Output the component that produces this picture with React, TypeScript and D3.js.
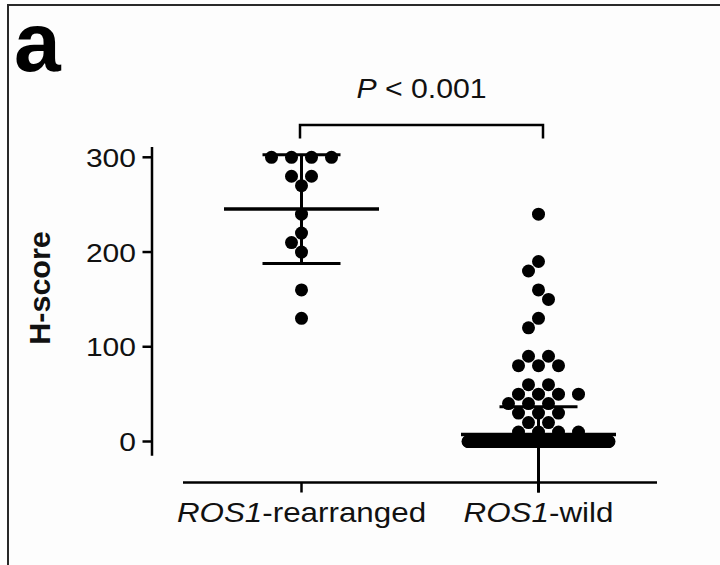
import { useEffect, useRef } from "react";
import * as d3 from "d3";

// data
const groups = ["rearranged", "wild"];
const geneName = "ROS1";
const rearrangedScores = [300, 300, 300, 300, 280, 280, 270, 240, 220, 210, 200, 160, 130];
const wildScores = [
  240, 190, 180, 160, 150, 130, 120, 90, 90, 80, 80, 80, 60, 60, 50, 50, 50, 50,
  40, 40, 40, 30, 30, 30, 20, 20, 10, 10, 10, 10,
];
const wildZeroCount = 265;
const yTicks = [0, 100, 200, 300];
const pValueText = "< 0.001";

const WIDTH = 720;
const HEIGHT = 565;
const DOT_R = 6.5;
const FONT = '"Liberation Sans", Arial, Helvetica, sans-serif';

type Dot = { v: number; cy: number; dx: number };

// equal values go in a centred row, the row is shifted sideways until it clears the dots above
function swarm(values: number[], y: d3.ScaleLinear<number, number>, step: number, minDist: number) {
  const placed: Dot[] = [];
  const levels = Array.from(new Set(values)).sort((a, b) => b - a);
  let flip = 1;
  for (const v of levels) {
    const n = values.filter((d) => d === v).length;
    const cy = y(v);
    const row = d3.range(n).map((i) => (i - (n - 1) / 2) * step * 2);
    const fits = (shift: number) =>
      row.every((t) => placed.every((p) => Math.hypot(p.dx - (t + shift), p.cy - cy) >= minDist));
    let shift = 0;
    for (let j = 0; j < 30; j++) {
      const cands = j === 0 ? [0] : [-j * step * flip, j * step * flip];
      const hit = cands.find(fits);
      if (hit !== undefined) {
        shift = hit;
        if (j > 0) flip = -flip;
        break;
      }
    }
    row.forEach((t) => placed.push({ v, cy, dx: t + shift }));
  }
  return placed;
}

const App = () => {
  const svgRef = useRef<SVGSVGElement>(null);

  useEffect(() => {
    if (!svgRef.current) return;
    const root = d3.select(svgRef.current);
    root.selectAll("*").remove();

    const y = d3.scaleLinear().domain([0, 300]).range([441.5, 157.3]);
    const x = d3.scalePoint<string>().domain(groups).range([183, 657]).padding(0.5);
    const axisX = 152;
    const baseY = 482.5;

    // frame
    root
      .append("rect")
      .attr("width", WIDTH)
      .attr("height", HEIGHT)
      .attr("fill", "#ffffff");
    root
      .append("rect")
      .attr("x", 8)
      .attr("y", 5)
      .attr("width", WIDTH + 20)
      .attr("height", HEIGHT + 20)
      .attr("fill", "#fdfdfd")
      .attr("stroke", "#2a2a2a")
      .attr("stroke-width", 2);

    // panel letter
    root
      .append("text")
      .attr("x", 14)
      .attr("y", 71)
      .attr("font-family", FONT)
      .attr("font-weight", "bold")
      .attr("font-size", 84)
      .attr("fill", "#000")
      .text("a");

    const g = root.append("g");

    // y axis
    g.append("line")
      .attr("x1", axisX)
      .attr("x2", axisX)
      .attr("y1", y(311))
      .attr("y2", y(-15))
      .attr("stroke", "#000")
      .attr("stroke-width", 2.5);

    yTicks.forEach((t) => {
      g.append("line")
        .attr("x1", axisX - 9.5)
        .attr("x2", axisX)
        .attr("y1", y(t))
        .attr("y2", y(t))
        .attr("stroke", "#000")
        .attr("stroke-width", 2.5);
      g.append("text")
        .attr("transform", `translate(${axisX - 16},${y(t) + 9.5}) scale(1.2,1)`)
        .attr("text-anchor", "end")
        .attr("font-family", FONT)
        .attr("font-size", 25)
        .attr("fill", "#111")
        .text(t);
    });

    g.append("text")
      .attr("transform", `translate(49.5,288) rotate(-90) scale(1.05,1)`)
      .attr("text-anchor", "middle")
      .attr("font-family", FONT)
      .attr("font-weight", "bold")
      .attr("font-size", 29)
      .attr("fill", "#111")
      .text("H-score");

    // x axis
    g.append("line")
      .attr("x1", 183)
      .attr("x2", 657)
      .attr("y1", baseY)
      .attr("y2", baseY)
      .attr("stroke", "#000")
      .attr("stroke-width", 2.5);

    groups.forEach((grp) => {
      const cx = x(grp)!;
      g.append("line")
        .attr("x1", cx)
        .attr("x2", cx)
        .attr("y1", baseY)
        .attr("y2", baseY + 10)
        .attr("stroke", "#000")
        .attr("stroke-width", 2.5);
      const lbl = g
        .append("text")
        .attr("transform", `translate(${cx},521.5) scale(1.12,1)`)
        .attr("text-anchor", "middle")
        .attr("font-family", FONT)
        .attr("font-size", 28)
        .attr("fill", "#111");
      lbl.append("tspan").attr("font-style", "italic").text(geneName);
      lbl.append("tspan").text("-" + grp);
    });

    // dots
    const series = [
      { grp: "rearranged", values: rearrangedScores, zeros: 0 },
      { grp: "wild", values: wildScores, zeros: wildZeroCount },
    ];

    series.forEach((s) => {
      const cx = x(s.grp)!;
      const dots = swarm(s.values, y, 10, 13);
      const all = s.values.concat(d3.range(s.zeros).map(() => 0));

      g.append("g")
        .selectAll("circle.zero")
        .data(d3.range(s.zeros))
        .join("circle")
        .attr("cx", (i) => cx - 70.5 + (141 * i) / Math.max(1, s.zeros - 1))
        .attr("cy", y(0))
        .attr("r", DOT_R)
        .attr("fill", "#000");

      g.append("g")
        .selectAll("circle")
        .data(dots)
        .join("circle")
        .attr("cx", (d) => cx + d.dx)
        .attr("cy", (d) => d.cy)
        .attr("r", DOT_R)
        .attr("fill", "#000");

      // mean with SD
      const m = d3.mean(all)!;
      const sd = d3.deviation(all)!;
      const lowY = m - sd < 0 ? baseY + 10 : y(m - sd);
      g.append("line")
        .attr("x1", cx)
        .attr("x2", cx)
        .attr("y1", y(m + sd))
        .attr("y2", lowY)
        .attr("stroke", "#000")
        .attr("stroke-width", 3);
      [m + sd, m - sd].forEach((v) => {
        if (v < 0) return;
        g.append("line")
          .attr("x1", cx - 39)
          .attr("x2", cx + 39)
          .attr("y1", y(v))
          .attr("y2", y(v))
          .attr("stroke", "#000")
          .attr("stroke-width", 3);
      });
      g.append("line")
        .attr("x1", cx - 77.5)
        .attr("x2", cx + 77.5)
        .attr("y1", y(m))
        .attr("y2", y(m))
        .attr("stroke", "#000")
        .attr("stroke-width", 3.5);
    });

    // significance bracket
    const bx0 = x(groups[0])! - 1.5;
    const bx1 = x(groups[1])! + 4.5;
    g.append("path")
      .attr("d", `M${bx0},138.5 V125 H${bx1} V138.5`)
      .attr("fill", "none")
      .attr("stroke", "#000")
      .attr("stroke-width", 2.5);
    const pt = g
      .append("text")
      .attr("transform", `translate(${(bx0 + bx1) / 2},98.3) scale(1.08,1)`)
      .attr("text-anchor", "middle")
      .attr("font-family", FONT)
      .attr("font-size", 28)
      .attr("fill", "#111");
    pt.append("tspan").attr("font-style", "italic").text("P");
    pt.append("tspan").text(" " + pValueText);
  }, []);

  return (
    <svg
      ref={svgRef}
      width={WIDTH}
      height={HEIGHT}
      style={{ position: "absolute", left: 0, top: 0, display: "block" }}
    ></svg>
  );
};

export default App;
